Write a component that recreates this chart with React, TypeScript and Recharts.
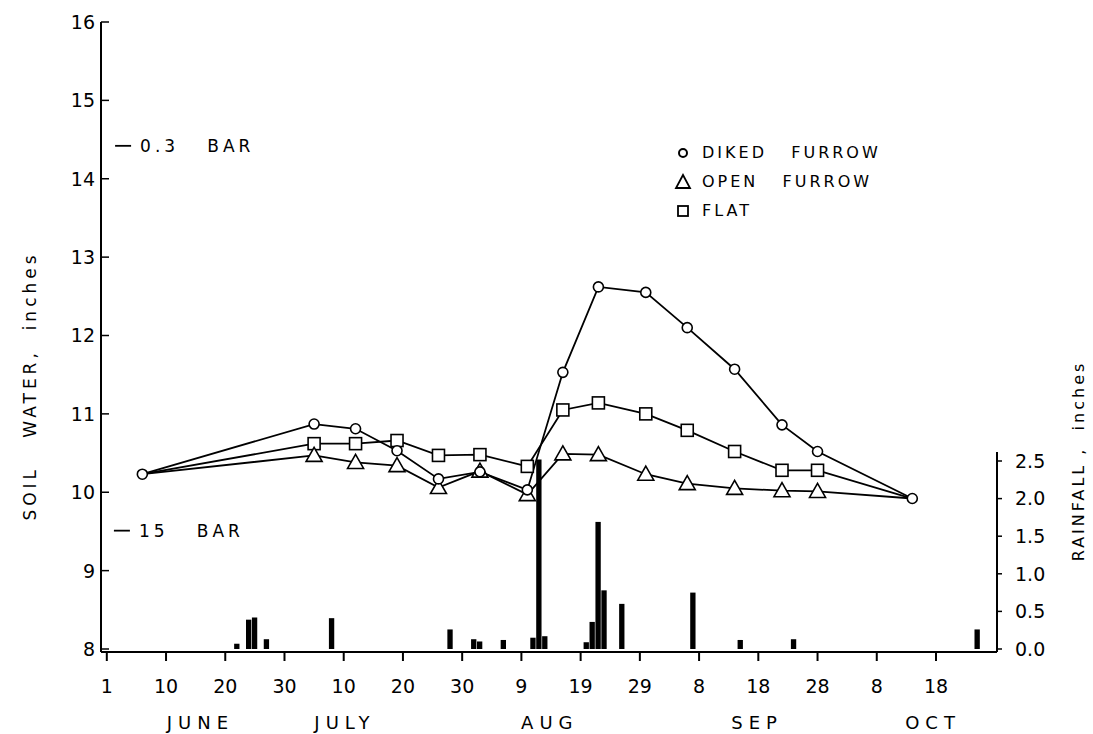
import React from 'react';
import { ComposedChart, Line, Bar, XAxis, YAxis, ReferenceLine } from 'recharts';

const FONT = '"DejaVu Sans", sans-serif';
const NB = '\u00A0';

// x is days counted from May 31, one tick every 10 days
const dayTicks = [0, 10, 20, 30, 40, 50, 60, 70, 80, 90, 100, 110, 120, 130, 140];
const dayLabels = ['1', '10', '20', '30', '10', '20', '30', '9', '19', '29', '8', '18', '28', '8', '18'];
const monthTicks = [15.8, 40.2, 74.8, 109.8, 139.5];
const monthLabels = ['JUNE', 'JULY', 'AUG', 'SEP', 'OCT'];

const soilTicks = [8, 9, 10, 11, 12, 13, 14, 15, 16];
const rainTicks = [0, 0.5, 1, 1.5, 2, 2.5];

// soil water samples, inches
const sampleDays = [6, 35, 42, 49, 56, 63, 71, 77, 83, 91, 98, 106, 114, 120, 136];
const dikedFurrow = [10.23, 10.87, 10.81, 10.53, 10.17, 10.26, 10.03, 11.53, 12.62, 12.55, 12.1, 11.57, 10.86, 10.52, 9.92];
const openFurrow = [10.23, 10.47, 10.38, 10.34, 10.06, 10.27, 9.97, 10.49, 10.48, 10.23, 10.11, 10.05, 10.02, 10.01, 9.92];
const flatBeds = [10.23, 10.62, 10.62, 10.66, 10.47, 10.48, 10.33, 11.05, 11.14, 11.0, 10.79, 10.52, 10.28, 10.28, 9.92];

// daily rainfall, inches
const rainDays = [22, 24, 25, 27, 38, 58, 62, 63, 67, 72, 73, 74, 81, 82, 83, 84, 87, 99, 107, 116, 147];
const rainfall = [0.07, 0.39, 0.42, 0.13, 0.41, 0.26, 0.13, 0.1, 0.12, 0.15, 2.52, 0.17, 0.09, 0.36, 1.69, 0.78, 0.6, 0.75, 0.12, 0.13, 0.26];

const rows = (() => {
  const map = new Map<number, any>();
  const get = (d: number) => {
    if (!map.has(d)) map.set(d, { day: d });
    return map.get(d);
  };
  sampleDays.forEach((d, i) => {
    const r = get(d);
    r.diked = dikedFurrow[i];
    r.open = openFurrow[i];
    r.flat = flatBeds[i];
  });
  rainDays.forEach((d, i) => {
    get(d).rain = rainfall[i];
  });
  return Array.from(map.values()).sort((a, b) => a.day - b.day);
})();

const firstDay = sampleDays[0];
const lastDay = sampleDays[sampleDays.length - 1];

const CircleDot = (p: any) => {
  if (p.cy == null || p.cx == null) return <g key={p.index} />;
  return <circle key={p.index} cx={p.cx} cy={p.cy} r={5} fill="#fff" stroke="#000" strokeWidth={1.6} />;
};

const SquareDot = (p: any) => {
  const d = p.payload?.day;
  if (p.cy == null || d === firstDay || d === lastDay) return <g key={p.index} />;
  return <rect key={p.index} x={p.cx - 6} y={p.cy - 6} width={12} height={12} fill="#fff" stroke="#000" strokeWidth={1.6} />;
};

const TriangleDot = (p: any) => {
  const d = p.payload?.day;
  if (p.cy == null || d === firstDay || d === lastDay) return <g key={p.index} />;
  const { cx, cy } = p;
  return (
    <path
      key={p.index}
      d={`M${cx},${cy - 8} L${cx + 8},${cy + 6} L${cx - 8},${cy + 6} Z`}
      fill="#fff"
      stroke="#000"
      strokeWidth={1.6}
    />
  );
};

const SoilTick = (props: any) => {
  const { x, y, payload } = props;
  return (
    <g>
      <line x1={x + 6} x2={x + 14} y1={y} y2={y} stroke="#000" strokeWidth={1.5} />
      <text x={x} y={y} dy={7} textAnchor="end" fontSize={19} fontFamily={FONT} fill="#000">
        {payload.value}
      </text>
    </g>
  );
};

const barLabel = (text: string) => ({
  value: text,
  position: 'right' as const,
  offset: 9,
  fill: '#000',
  fontSize: 17,
  fontFamily: FONT,
  letterSpacing: 4,
});

const Legend = () => (
  <div
    style={{
      position: 'absolute',
      left: 674,
      top: 138,
      fontFamily: FONT,
      fontSize: 16,
      letterSpacing: 3,
      lineHeight: '29px',
      whiteSpace: 'pre',
      color: '#000',
    }}
  >
    <div style={{ display: 'flex', alignItems: 'center' }}>
      <svg width={24} height={20}>
        <circle cx={9} cy={10} r={4} fill="#fff" stroke="#000" strokeWidth={2} />
      </svg>
      <span style={{ marginLeft: 4 }}>DIKED   FURROW</span>
    </div>
    <div style={{ display: 'flex', alignItems: 'center' }}>
      <svg width={24} height={20}>
        <path d="M9,3 L16,16 L2,16 Z" fill="#fff" stroke="#000" strokeWidth={1.8} />
      </svg>
      <span style={{ marginLeft: 4 }}>OPEN   FURROW</span>
    </div>
    <div style={{ display: 'flex', alignItems: 'center' }}>
      <svg width={24} height={20}>
        <rect x={4} y={5} width={10} height={10} fill="#fff" stroke="#000" strokeWidth={1.8} />
      </svg>
      <span style={{ marginLeft: 4 }}>FLAT</span>
    </div>
  </div>
);

export default function App() {
  return (
    <div style={{ position: 'absolute', left: 0, top: 0, width: 1093, height: 734, background: '#fff' }}>
      <ComposedChart width={1093} height={734} data={rows} margin={{ top: 22, right: 36, bottom: 0, left: 41 }}>
        <XAxis
          xAxisId="day"
          dataKey="day"
          type="number"
          domain={[-0.98, 150.3]}
          ticks={dayTicks}
          interval={0}
          allowDataOverflow
          tickFormatter={(v: number) => dayLabels[dayTicks.indexOf(v)]}
          tickSize={9}
          tickMargin={19}
          height={48}
          stroke="#000"
          strokeWidth={2}
          tick={{ fill: '#000', fontSize: 19, fontFamily: FONT }}
        />
        <XAxis
          xAxisId="month"
          dataKey="day"
          type="number"
          domain={[-0.98, 150.3]}
          ticks={monthTicks}
          interval={0}
          allowDataOverflow
          tickFormatter={(v: number) => monthLabels[monthTicks.indexOf(v)]}
          axisLine={false}
          tickLine={false}
          tickMargin={10}
          height={34}
          tick={{ fill: '#000', fontSize: 18, fontFamily: FONT, letterSpacing: 6 }}
        />
        <YAxis
          yAxisId="soil"
          orientation="left"
          type="number"
          domain={[7.9617, 16]}
          ticks={soilTicks}
          interval={0}
          allowDataOverflow
          width={60}
          tickSize={0}
          tickMargin={6}
          tick={<SoilTick />}
          stroke="#000"
          strokeWidth={2}
        />
        <YAxis
          yAxisId="rain"
          orientation="right"
          type="number"
          domain={[-0.04, 8.338]}
          ticks={rainTicks}
          interval={0}
          allowDataOverflow
          width={60}
          axisLine={false}
          tickSize={5}
          tickMargin={13}
          tickLine={{ stroke: '#000', strokeWidth: 1.5 }}
          tickFormatter={(v: number) => v.toFixed(1)}
          tick={{ fill: '#000', fontSize: 19, fontFamily: FONT }}
        />
        <ReferenceLine
          xAxisId="day"
          yAxisId="rain"
          segment={[{ x: 150.3, y: -0.04 }, { x: 150.3, y: 2.62 }]}
          stroke="#000"
          strokeWidth={2}
          ifOverflow="visible"
        />
        <ReferenceLine
          xAxisId="day"
          yAxisId="soil"
          segment={[{ x: 1.4, y: 14.42 }, { x: 4.1, y: 14.42 }]}
          stroke="#000"
          strokeWidth={1.8}
          label={barLabel(`0.3${NB}${NB}${NB}BAR`)}
        />
        <ReferenceLine
          xAxisId="day"
          yAxisId="soil"
          segment={[{ x: 1.2, y: 9.51 }, { x: 3.9, y: 9.51 }]}
          stroke="#000"
          strokeWidth={1.8}
          label={barLabel(`15${NB}${NB}${NB}BAR`)}
        />
        <Bar xAxisId="day" yAxisId="rain" dataKey="rain" fill="#000" barSize={6} isAnimationActive={false} />
        <Line
          xAxisId="day"
          yAxisId="soil"
          dataKey="flat"
          stroke="#000"
          strokeWidth={1.8}
          connectNulls
          dot={SquareDot}
          activeDot={false}
          isAnimationActive={false}
        />
        <Line
          xAxisId="day"
          yAxisId="soil"
          dataKey="open"
          stroke="#000"
          strokeWidth={1.8}
          connectNulls
          dot={TriangleDot}
          activeDot={false}
          isAnimationActive={false}
        />
        <Line
          xAxisId="day"
          yAxisId="soil"
          dataKey="diked"
          stroke="#000"
          strokeWidth={1.8}
          connectNulls
          dot={CircleDot}
          activeDot={false}
          isAnimationActive={false}
        />
      </ComposedChart>
      <Legend />
      <svg width={1093} height={734} style={{ position: 'absolute', left: 0, top: 0, pointerEvents: 'none' }}>
        <text
          transform="translate(36, 386) rotate(-90)"
          textAnchor="middle"
          fontSize={17}
          fontFamily={FONT}
          letterSpacing={4}
          fill="#000"
          style={{ whiteSpace: 'pre' }}
        >
          {'SOIL   WATER,  inches'}
        </text>
        <text
          transform="translate(1084, 461) rotate(-90)"
          textAnchor="middle"
          fontSize={16}
          fontFamily={FONT}
          letterSpacing={3}
          fill="#000"
          style={{ whiteSpace: 'pre' }}
        >
          {'RAINFALL ,  inches'}
        </text>
      </svg>
    </div>
  );
}
